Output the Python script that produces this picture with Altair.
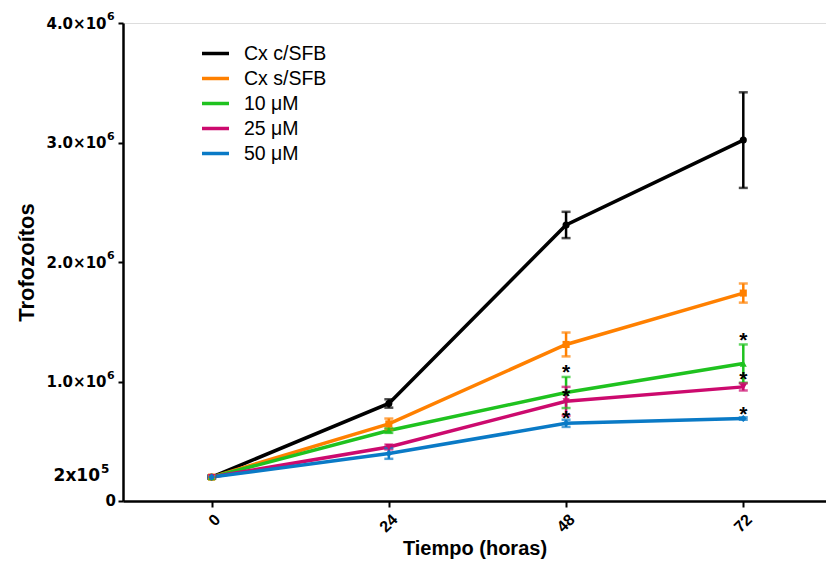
import altair as alt
import pandas as pd

# ---- data ----
series = ["Cx c/SFB", "Cx s/SFB", "10 μM", "25 μM", "50 μM"]
colors = ["#000000", "#FF8000", "#1FC21F", "#CC0A6E", "#0A7AC6"]
shapes = ["circle", "square", "triangle-up", "triangle-down", "diamond"]
hours = [0, 24, 48, 72]

means = {
    "Cx c/SFB": [0.20e6, 0.816e6, 2.31e6, 3.02e6],
    "Cx s/SFB": [0.20e6, 0.645e6, 1.31e6, 1.74e6],
    "10 μM":    [0.20e6, 0.590e6, 0.908e6, 1.15e6],
    "25 μM":    [0.20e6, 0.452e6, 0.835e6, 0.955e6],
    "50 μM":    [0.20e6, 0.398e6, 0.650e6, 0.690e6],
}
errors = {
    "Cx c/SFB": [0.01e6, 0.035e6, 0.11e6, 0.40e6],
    "Cx s/SFB": [0.01e6, 0.045e6, 0.10e6, 0.08e6],
    "10 μM":    [0.01e6, 0.020e6, 0.13e6, 0.16e6],
    "25 μM":    [0.01e6, 0.020e6, 0.12e6, 0.03e6],
    "50 μM":    [0.01e6, 0.045e6, 0.03e6, 0.01e6],
}

star_x = [48, 48, 48, 72, 72, 72]
star_y = [1.117e6, 0.908e6, 0.73e6, 1.38e6, 1.053e6, 0.765e6]

y_ticks = [0, 1e6, 2e6, 3e6, 4e6]
y_exp_vals = [1e6, 2e6, 3e6, 4e6]
y_exp_text = ["6", "6", "6", "6"]
zero_value = [0]
zero_text = ["0"]
x_ticks = [0, 24, 48, 72]
note_value = [2e5]
note_base = ["2x10"]
note_exp = ["5"]

rows = []
for s in series:
    for h, m, e in zip(hours, means[s], errors[s]):
        rows.append({"serie": s, "grp": s, "h": h, "v": m, "lo": m - e, "hi": m + e})
df = pd.DataFrame(rows)
stars = pd.DataFrame({"h": star_x, "v": star_y, "t": ["*"] * len(star_x)})
exps = pd.DataFrame({"v": y_exp_vals, "t": y_exp_text})
zero = pd.DataFrame({"v": zero_value, "t": zero_text})
note = pd.DataFrame({"v": note_value, "t": note_base, "e": note_exp})

FONT = "Liberation Sans"
NUMFONT = "DejaVu Sans"

xs = alt.Scale(domain=[-12, 83.2], nice=False, zero=False)
ys = alt.Scale(domain=[0, 4e6], nice=False)
cs = alt.Scale(domain=series, range=colors)
cs2 = alt.Scale(domain=series, range=colors)
ss = alt.Scale(domain=series, range=shapes)

x_enc = alt.X("h:Q", scale=xs, title="Tiempo (horas)",
              axis=alt.Axis(values=x_ticks, labelAngle=-45, labelFontSize=16,
                            labelFontWeight="bold", labelFont=FONT, labelColor="black",
                            titleFont=FONT, titleFontSize=20, titleFontWeight="bold",
                            titleColor="black", titlePadding=4,
                            domainColor="black", domainWidth=2.5, tickColor="black",
                            tickWidth=2, tickSize=6, grid=False, labelPadding=4))
y_enc = alt.Y("v:Q", scale=ys, title="Trofozoítos",
              axis=alt.Axis(values=y_ticks,
                            labelExpr="datum.value == 0 ? '' : format(datum.value/1e6, '.1f') + '×10'",
                            labelFontSize=15, labelFontWeight="bold", labelFont=NUMFONT,
                            labelColor="black", titleFont=FONT, titleFontSize=22,
                            titleFontWeight="bold", titleColor="black", titlePadding=7,
                            domainColor="black", domainWidth=2.5, tickColor="black",
                            tickWidth=2, tickSize=5, grid=False, labelPadding=12))

base = alt.Chart(df)

rules = base.mark_rule(strokeWidth=2.5).encode(
    x="h:Q", y="lo:Q", y2="hi:Q",
    color=alt.Color("grp:N", scale=cs2, legend=None))
cap_lo = base.mark_tick(orient="horizontal", size=9, thickness=2.5).encode(
    x="h:Q", y="lo:Q", color=alt.Color("grp:N", scale=cs2, legend=None))
cap_hi = base.mark_tick(orient="horizontal", size=9, thickness=2.5).encode(
    x="h:Q", y="hi:Q", color=alt.Color("grp:N", scale=cs2, legend=None))

lines = base.mark_line(strokeWidth=3.5).encode(
    x=x_enc, y=y_enc,
    color=alt.Color("serie:N", scale=cs, sort=series,
                    legend=alt.Legend(title=None, orient="none", legendX=77, legendY=15,
                                      symbolType="stroke", symbolSize=729,
                                      symbolStrokeWidth=3.5, labelFontSize=19.5,
                                      labelFont=FONT, labelColor="black",
                                      labelOffset=13, rowPadding=-2.7,
                                      labelLimit=300)),
    detail="serie:N")
points = base.mark_point(filled=True, size=50, opacity=1).encode(
    x="h:Q", y="v:Q",
    color=alt.Color("grp:N", scale=cs2, legend=None),
    shape=alt.Shape("grp:N", scale=ss, legend=None))

star_layer = alt.Chart(stars).mark_text(fontSize=21, fontWeight="bold", font=FONT,
                                       color="black", baseline="middle", dy=5).encode(
    x="h:Q", y="v:Q", text="t:N")

exp_layer = alt.Chart(exps).mark_text(fontSize=11, fontWeight="bold", font=NUMFONT,
                                      color="black", align="left", baseline="middle",
                                      dy=-6).encode(
    x=alt.value(-16), y="v:Q", text="t:N")

zero_layer = alt.Chart(zero).mark_text(fontSize=15, fontWeight="bold", font=NUMFONT,
                                       color="black", align="right", baseline="middle").encode(
    x=alt.value(-7), y="v:Q", text="t:N")

note_layer = alt.Chart(note).mark_text(fontSize=17, fontWeight="bold", font=NUMFONT,
                                       color="black", align="right", baseline="middle",
                                       dy=-1).encode(
    x=alt.value(-23), y="v:Q", text="t:N")
note_exp_layer = alt.Chart(note).mark_text(fontSize=12, fontWeight="bold", font=NUMFONT,
                                           color="black", align="left", baseline="middle",
                                           dy=-8).encode(
    x=alt.value(-22), y="v:Q", text="e:N")

chart = alt.layer(lines, rules, cap_lo, cap_hi, points, star_layer, exp_layer,
                  zero_layer, note_layer, note_exp_layer).resolve_scale(
    color="independent").properties(
    width=703, height=478,
    autosize=alt.AutoSizeParams(type="none"),
    padding={"left": 123, "top": 23, "right": 0, "bottom": 61},
).configure_view(stroke=None).configure(background="white")

chart.save("out.html", embed_options={"renderer": "svg", "actions": False})
